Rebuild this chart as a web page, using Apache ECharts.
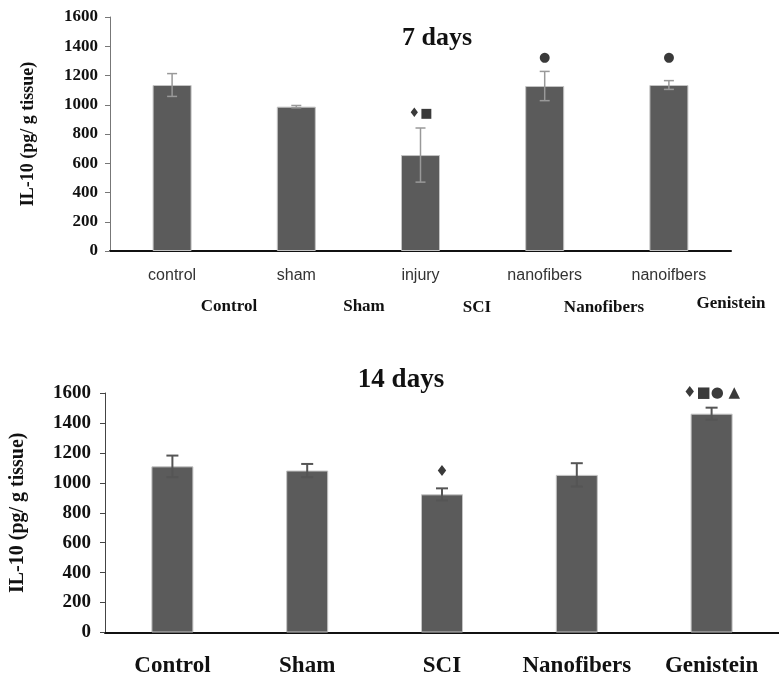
<!DOCTYPE html>
<html>
<head>
<meta charset="utf-8">
<script src="https://cdn.jsdelivr.net/npm/echarts@6/dist/echarts.min.js"></script>
<style>html,body{margin:0;padding:0;background:#fff}#c{width:779px;height:679px}</style>
</head>
<body>
<div id="c"></div>
<script>
// ---- data ----
var cats7 = ['control', 'sham', 'injury', 'nanofibers', 'nanoifbers'];
var groupNames7 = ['Control', 'Sham', 'SCI', 'Nanofibers', 'Genistein'];
var mean7 = [1135, 987, 656, 1128, 1135];
var err7 = [78, 8, 185, 100, 30];
var marks7 = ['', '', '\u2666\u25A0', '\u25CF', '\u25CF'];

var cats14 = ['Control', 'Sham', 'SCI', 'Nanofibers', 'Genistein'];
var mean14 = [1110, 1082, 923, 1053, 1462];
var err14 = [72, 44, 40, 78, 40];
var marks14 = ['', '', '\u2666', '', '\u2666\u25A0\u25CF \u25B2'];

var yTicks = [0, 200, 400, 600, 800, 1000, 1200, 1400, 1600];

// ---- styling ----
var serif = '"Liberation Serif", "Times New Roman", serif';
var markOffset7 = [14, 14, 14, 14, 23];
var markOffset14 = [15, 15, 16, 15, 15];
var chart = echarts.init(document.getElementById('c'), null, {renderer: 'canvas'});

function errRender(color, lw, cap) {
  return function (params, api) {
    var i = api.value(0), m = api.value(1), e = api.value(2);
    var top = api.coord([i, m + e]);
    var bot = api.coord([i, m - e]);
    var st = {stroke: color, lineWidth: lw};
    return {type: 'group', children: [
      {type: 'line', shape: {x1: top[0], y1: top[1], x2: bot[0], y2: bot[1]}, style: st},
      {type: 'line', shape: {x1: top[0] - cap, y1: top[1], x2: top[0] + cap, y2: top[1]}, style: st},
      {type: 'line', shape: {x1: bot[0] - cap, y1: bot[1], x2: bot[0] + cap, y2: bot[1]}, style: st}
    ]};
  };
}
function markRender(marks, offs, fs) {
  return function (params, api) {
    var i = api.value(0), m = api.value(1), e = api.value(2);
    var p = api.coord([i, m + e]);
    return {type: 'text', x: p[0], y: p[1] - offs[params.dataIndex],
      style: {text: marks[params.dataIndex] || '', fill: '#3a3a3a', font: fs + 'px "DejaVu Sans", sans-serif',
        textAlign: 'center', textVerticalAlign: 'middle'}};
  };
}
function errData(means, errs) {
  return means.map(function (m, i) { return [i, m, errs[i]]; });
}

var graphics = [];
var gx = [229, 364, 477, 604, 731];
var gy = [307, 307, 308, 308, 304];
groupNames7.forEach(function (n, i) {
  graphics.push({type: 'text', x: gx[i], y: gy[i],
    style: {text: n, font: 'bold 17px ' + serif, fill: '#111', textAlign: 'center', textVerticalAlign: 'middle'}});
});

function plain(v) { return String(v); }

var option = {
  animation: false,
  backgroundColor: '#fff',
  title: [
    {text: '7 days', left: 432, top: 20, textAlign: 'center',
      textStyle: {fontFamily: serif, fontWeight: 'bold', fontSize: 26, color: '#111'}},
    {text: '14 days', left: 396, top: 362, textAlign: 'center',
      textStyle: {fontFamily: serif, fontWeight: 'bold', fontSize: 27, color: '#111'}}
  ],
  graphic: graphics,
  grid: [
    {left: 110, top: 17, width: 621, height: 234},
    {left: 105, top: 393, width: 680, height: 239.5}
  ],
  xAxis: [
    {type: 'category', gridIndex: 0, data: cats7,
      axisLine: {lineStyle: {color: '#111', width: 2}}, axisTick: {show: false},
      axisLabel: {interval: 0, margin: 17, fontFamily: '"Liberation Sans", Arial, sans-serif', fontSize: 16, color: '#333'}},
    {type: 'category', gridIndex: 1, data: cats14,
      axisLine: {lineStyle: {color: '#111', width: 2}}, axisTick: {show: false},
      axisLabel: {interval: 0, margin: 22, fontFamily: serif, fontWeight: 'bold', fontSize: 23, color: '#111'}}
  ],
  yAxis: [
    {type: 'value', gridIndex: 0, min: yTicks[0], max: yTicks[yTicks.length - 1], interval: 200,
      name: 'IL-10 (pg/ g tissue)', nameLocation: 'middle', nameGap: 73, nameRotate: 90,
      nameTextStyle: {fontFamily: serif, fontWeight: 'bold', fontSize: 18, color: '#111'},
      axisLine: {show: true, lineStyle: {color: '#777', width: 1}},
      axisTick: {show: true, length: 5, lineStyle: {color: '#777'}},
      splitLine: {show: false},
      axisLabel: {formatter: plain, margin: 12, fontFamily: serif, fontWeight: 'bold', fontSize: 17, color: '#111'}},
    {type: 'value', gridIndex: 1, min: yTicks[0], max: yTicks[yTicks.length - 1], interval: 200,
      name: 'IL-10 (pg/ g tissue)', nameLocation: 'middle', nameGap: 77, nameRotate: 90,
      nameTextStyle: {fontFamily: serif, fontWeight: 'bold', fontSize: 20, color: '#111'},
      axisLine: {show: true, lineStyle: {color: '#444', width: 1}},
      axisTick: {show: true, length: 5, lineStyle: {color: '#444'}},
      splitLine: {show: false},
      axisLabel: {formatter: plain, margin: 14, fontFamily: serif, fontWeight: 'bold', fontSize: 19, color: '#111'}}
  ],
  series: [
    {type: 'bar', xAxisIndex: 0, yAxisIndex: 0, data: mean7, barWidth: 39,
      itemStyle: {color: '#5b5b5b', borderColor: '#c4c4c4', borderWidth: 1}},
    {type: 'bar', xAxisIndex: 1, yAxisIndex: 1, data: mean14, barWidth: 42,
      itemStyle: {color: '#5b5b5b', borderColor: '#c4c4c4', borderWidth: 1}},
    {type: 'custom', xAxisIndex: 0, yAxisIndex: 0, renderItem: errRender('#999', 1.5, 5),
      data: errData(mean7, err7), z: 5},
    {type: 'custom', xAxisIndex: 1, yAxisIndex: 1, renderItem: errRender('#555', 2, 6),
      data: errData(mean14, err14), z: 5},
    {type: 'custom', xAxisIndex: 0, yAxisIndex: 0, renderItem: markRender(marks7, markOffset7, 13),
      data: errData(mean7, err7), z: 6},
    {type: 'custom', xAxisIndex: 1, yAxisIndex: 1, renderItem: markRender(marks14, markOffset14, 15),
      data: errData(mean14, err14), z: 6}
  ]
};
chart.setOption(option);
</script>
</body>
</html>
